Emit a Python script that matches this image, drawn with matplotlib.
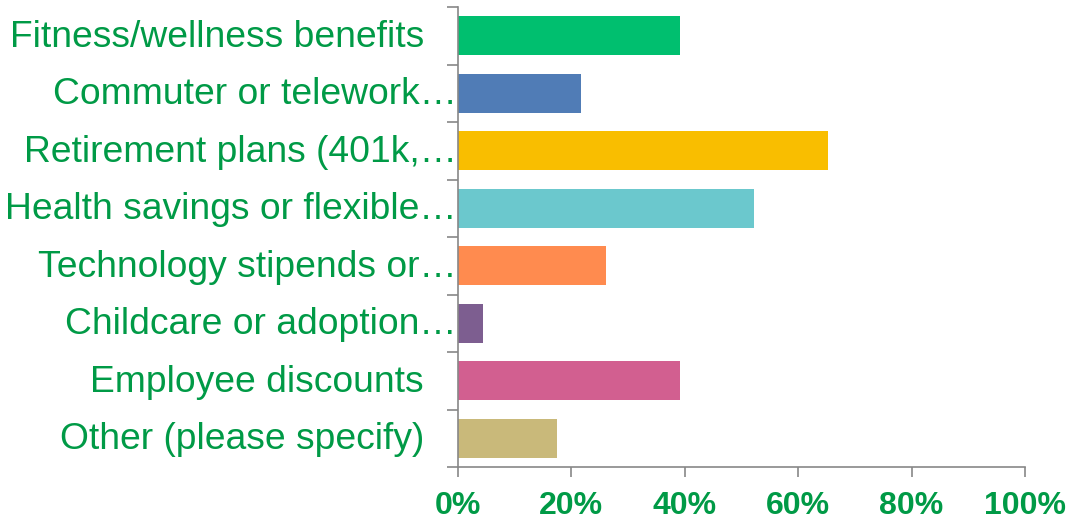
import matplotlib.pyplot as plt
from matplotlib.ticker import FixedLocator, FuncFormatter
from matplotlib.transforms import ScaledTranslation

plt.rcParams['font.family'] = ['Liberation Sans', 'DejaVu Sans']

categories = ["Fitness/wellness benefits",
              "Commuter or telework\u2026",
              "Retirement plans (401k,\u2026",
              "Health savings or flexible\u2026",
              "Technology stipends or\u2026",
              "Childcare or adoption\u2026",
              "Employee discounts",
              "Other (please specify)"]
shares = [39.13, 21.74, 65.22, 52.17, 26.09, 4.35, 39.13, 17.39]
colors = ["#00BF6F", "#507CB6", "#F9BE00", "#6BC8CD",
          "#FF8B4F", "#7D5E90", "#D25F90", "#C9B97A"]
x_ticks = [0, 20, 40, 60, 80, 100]

label_green = "#009A46"
axis_gray = "#878787"

fig = plt.figure(figsize=(10.67, 5.2), dpi=100)
ax = fig.add_axes([0.4292, 0.1019, 0.5314, 0.8846])

pos = list(range(len(categories)))
ax.barh(pos, shares, height=0.68, color=colors)

ax.set_xlim(0, 100)
ax.set_ylim(len(categories) - 0.5, -0.5)

for s in ["top", "right"]:
    ax.spines[s].set_visible(False)
for s in ["left", "bottom"]:
    ax.spines[s].set_color(axis_gray)
    ax.spines[s].set_linewidth(1.2)

# x axis: bold green percentages
ax.set_xticks(x_ticks)
ax.xaxis.set_major_formatter(FuncFormatter(lambda v, p: f"{v:.0f}%"))
ax.tick_params(axis="x", direction="out", length=7.5, width=1.2, color=axis_gray,
               pad=10, labelsize=23, labelcolor=label_green)
for lbl in ax.get_xticklabels():
    lbl.set_fontweight("bold")

# y axis: ticks only at the category boundaries
ax.yaxis.set_major_locator(FixedLocator([]))
ax.yaxis.set_minor_locator(FixedLocator([i - 0.5 for i in range(len(categories) + 1)]))
ax.tick_params(axis="y", which="minor", direction="out", length=8, width=1.2,
               color=axis_gray)

# category labels, full names sit a little further from the axis
ytrans = ax.get_yaxis_transform()
for i, name in enumerate(categories):
    gap = 0 if name.endswith("\u2026") else 33 / 100
    ax.text(0, i, name, ha="right", va="center", fontsize=26.8, color=label_green,
            transform=ytrans + ScaledTranslation(-gap - 1 / 100, -1.5 / 100,
                                                 fig.dpi_scale_trans))

fig.savefig("out.png", dpi=100)
